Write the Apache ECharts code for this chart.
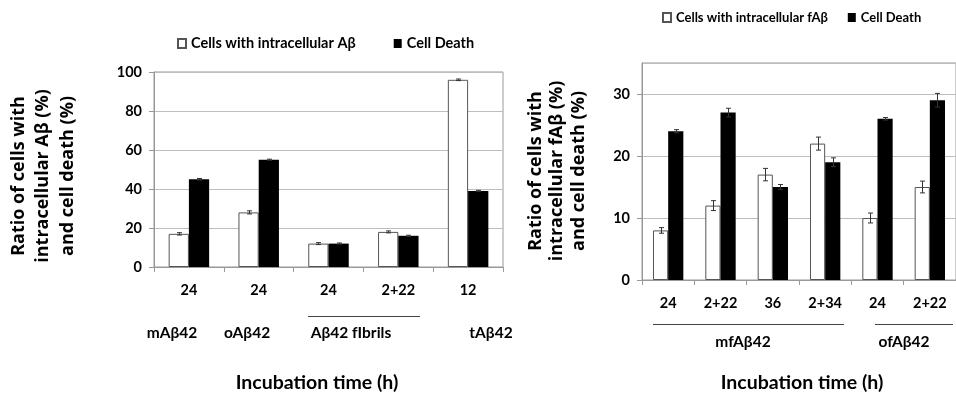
<!DOCTYPE html>
<html><head><meta charset="utf-8">
<script src="https://cdn.jsdelivr.net/npm/echarts@6/dist/echarts.min.js"></script>
<style>html,body{margin:0;padding:0;background:#fff}#c{width:956px;height:398px}</style>
</head><body><div id="c"></div>
<script>
// ---- Left chart data ----
const leftCategories = ['24', '24', '24', '2+22', '12'];
const leftIntra = [17, 28, 12, 18, 96];
const leftIntraErr = [0.6, 0.8, 0.5, 0.5, 0.4];
const leftDeath = [45, 55, 12, 16, 39];
const leftDeathErr = [0.4, 0.3, 0.3, 0.3, 0.3];
const leftGroupLabels = ['mAβ42', 'oAβ42', 'Aβ42 fIbrils', 'tAβ42'];
const leftYMin = 0, leftYMax = 100, leftYStep = 20;

// ---- Right chart data ----
const rightCategories = ['24', '2+22', '36', '2+34', '24', '2+22'];
const rightIntra = [8, 12, 17, 22, 10, 15];
const rightIntraErr = [0.45, 0.8, 1.0, 1.05, 0.8, 0.95];
const rightDeath = [24, 27, 15, 19, 26, 29];
const rightDeathErr = [0.25, 0.7, 0.4, 0.7, 0.2, 1.1];
const rightGroupLabels = ['mfAβ42', 'ofAβ42'];
const rightYMin = 0, rightYMax = 35, rightYStep = 10;

const seriesNames = ['Cells with intracellular Aβ', 'Cell Death', 'Cells with intracellular fAβ'];
const yTitleLeft = 'Ratio of cells with\nintracellular Aβ (%)\nand cell death (%)';
const yTitleRight = 'Ratio of cells with\nintracellular fAβ (%)\nand cell death (%)';
const xTitle = 'Incubation time (h)';

const GAP = 0.42;
const FONT = 'Lato';
const chart = echarts.init(document.getElementById('c'), null, {renderer: 'canvas'});

function errorSeries(xIdx, yIdx, values, errs, side) {
  return {
    type: 'custom', xAxisIndex: xIdx, yAxisIndex: yIdx, z: 5, silent: true,
    data: values.map((v, i) => [i, v, errs[i]]),
    renderItem(params, api) {
      const i = api.value(0), v = api.value(1), e = api.value(2);
      const cw = api.size([1, 0])[0];
      const bw = cw * (1 - GAP) / 2;
      const dx = side * bw / 2;
      const top = api.coord([i, v + e]);
      const bot = api.coord([i, v - e]);
      const x = Math.round(top[0] + dx) + 0.5;
      const cap = 2.5;
      const st = {stroke: '#333', lineWidth: 1};
      return {type: 'group', children: [
        {type: 'line', shape: {x1: x, y1: top[1], x2: x, y2: bot[1]}, style: st},
        {type: 'line', shape: {x1: x - cap, y1: top[1], x2: x + cap, y2: top[1]}, style: st},
        {type: 'line', shape: {x1: x - cap, y1: bot[1], x2: x + cap, y2: bot[1]}, style: st}
      ]};
    }
  };
}

const whiteStyle = {color: '#fff', borderColor: '#555', borderWidth: 1};
const blackStyle = {color: '#000'};

function xAxisCfg(gridIndex, cats) {
  return {
    type: 'category', gridIndex, data: cats,
    axisLine: {lineStyle: {color: '#999'}},
    axisTick: {show: true, alignWithLabel: false, length: 5, lineStyle: {color: '#999'}},
    axisLabel: {color: '#000', fontFamily: FONT, fontWeight: 'bold', fontSize: 14.5, margin: 16},
    splitLine: {show: false}
  };
}
function yAxisCfg(gridIndex, min, max, step) {
  return {
    type: 'value', gridIndex, min, max, interval: step,
    axisLine: {show: true, lineStyle: {color: '#999'}},
    axisTick: {show: true, length: 5, lineStyle: {color: '#999'}},
    axisLabel: {color: '#000', fontFamily: FONT, fontWeight: 'bold', fontSize: 14.5, margin: 12,
      showMaxLabel: max % step === 0},
    splitLine: {lineStyle: {color: '#bdbdbd'}}
  };
}

const legendTextL = {color: '#000', fontFamily: FONT, fontWeight: 'bold', fontSize: 14.5};
const legendTextR = {color: '#000', fontFamily: FONT, fontWeight: 'bold', fontSize: 13};

const titleStyle = {fill: '#000', font: 'bold 18px "Open Sans"', align: 'center', verticalAlign: 'middle'};
const labStyle = (sz) => ({fill: '#000', font: 'bold ' + sz + 'px ' + FONT, align: 'center', verticalAlign: 'middle'});

chart.setOption({
  animation: false,
  backgroundColor: '#fff',
  grid: [
    {left: 154, top: 72, width: 349, height: 195, show: true, borderColor: '#999', borderWidth: 1, backgroundColor: 'transparent'},
    {left: 642, top: 63, width: 321, height: 217, show: true, borderColor: '#999', borderWidth: 1, backgroundColor: 'transparent'}
  ],
  legend: [
    {left: 172, top: 31, itemWidth: 8, itemHeight: 9, itemGap: 38, icon: 'rect', textStyle: legendTextL,
      data: [seriesNames[0], seriesNames[1]], selectedMode: false},
    {left: 657, top: 6, itemWidth: 8, itemHeight: 9, itemGap: 20, icon: 'rect', textStyle: legendTextR,
      data: [seriesNames[2], seriesNames[1]], selectedMode: false}
  ],
  xAxis: [xAxisCfg(0, leftCategories), xAxisCfg(1, rightCategories)],
  yAxis: [yAxisCfg(0, leftYMin, leftYMax, leftYStep), yAxisCfg(1, rightYMin, rightYMax, rightYStep)],
  series: [
    {name: seriesNames[0], type: 'bar', xAxisIndex: 0, yAxisIndex: 0, data: leftIntra, itemStyle: whiteStyle, barGap: '0%', barCategoryGap: (GAP * 100) + '%'},
    {name: seriesNames[1], type: 'bar', xAxisIndex: 0, yAxisIndex: 0, data: leftDeath, itemStyle: blackStyle, barGap: '0%', barCategoryGap: (GAP * 100) + '%'},
    {name: seriesNames[2], type: 'bar', xAxisIndex: 1, yAxisIndex: 1, data: rightIntra, itemStyle: whiteStyle, barGap: '0%', barCategoryGap: (GAP * 100) + '%'},
    {name: seriesNames[1], type: 'bar', xAxisIndex: 1, yAxisIndex: 1, data: rightDeath, itemStyle: blackStyle, barGap: '0%', barCategoryGap: (GAP * 100) + '%'},
    errorSeries(0, 0, leftIntra, leftIntraErr, -1),
    errorSeries(0, 0, leftDeath, leftDeathErr, 1),
    errorSeries(1, 1, rightIntra, rightIntraErr, -1),
    errorSeries(1, 1, rightDeath, rightDeathErr, 1)
  ],
  graphic: [
    {type: 'text', x: 43, y: 176, rotation: Math.PI / 2, style: Object.assign({text: yTitleLeft, lineHeight: 24.5}, titleStyle)},
    {type: 'text', x: 557, y: 171, rotation: Math.PI / 2, style: Object.assign({text: yTitleRight, lineHeight: 21.5}, titleStyle)},
    {type: 'text', x: 172, y: 333, style: Object.assign({text: leftGroupLabels[0]}, labStyle(15.5))},
    {type: 'text', x: 247, y: 333, style: Object.assign({text: leftGroupLabels[1]}, labStyle(15.5))},
    {type: 'text', x: 351, y: 333, style: Object.assign({text: leftGroupLabels[2]}, labStyle(15.5))},
    {type: 'text', x: 491, y: 333, style: Object.assign({text: leftGroupLabels[3]}, labStyle(15.5))},
    {type: 'line', shape: {x1: 308, y1: 316.5, x2: 420, y2: 316.5}, style: {stroke: '#444', lineWidth: 1}},
    {type: 'text', x: 743, y: 342, style: Object.assign({text: rightGroupLabels[0]}, labStyle(15.5))},
    {type: 'text', x: 904, y: 342, style: Object.assign({text: rightGroupLabels[1]}, labStyle(15.5))},
    {type: 'line', shape: {x1: 653, y1: 324.5, x2: 844, y2: 324.5}, style: {stroke: '#444', lineWidth: 1}},
    {type: 'line', shape: {x1: 875, y1: 324.5, x2: 953, y2: 324.5}, style: {stroke: '#444', lineWidth: 1}},
    {type: 'text', x: 317, y: 383, style: Object.assign({text: xTitle}, labStyle(19.5))},
    {type: 'text', x: 802, y: 383, style: Object.assign({text: xTitle}, labStyle(19.5))}
  ]
});
</script></body></html>
